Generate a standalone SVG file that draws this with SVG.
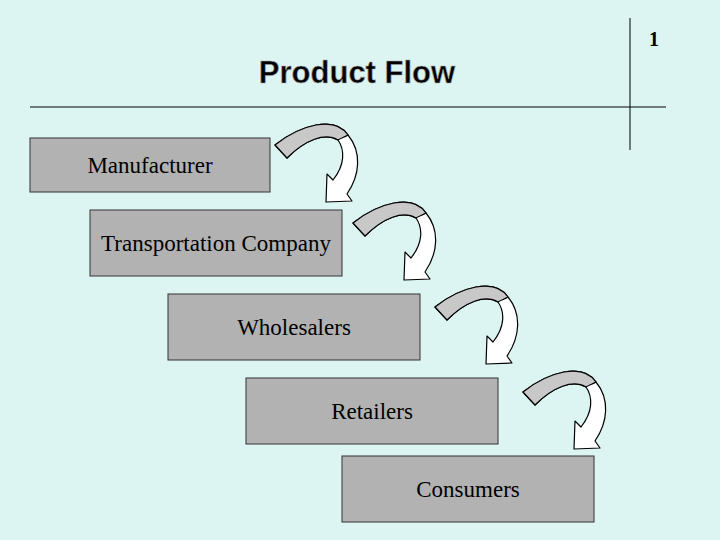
<svg xmlns="http://www.w3.org/2000/svg" xmlns:xlink="http://www.w3.org/1999/xlink" width="720" height="540" viewBox="0 0 720 540">
<style>
.box{fill:#b2b2b2;stroke:#333;stroke-width:1}
.t{font-family:"Liberation Serif",serif;font-size:23px;fill:#000;text-anchor:middle}
.ln{stroke:#000;stroke-width:1}
</style>
<defs>
<g id="arr" stroke="#000" stroke-width="1.2" stroke-linejoin="round">
<path fill="#fff" d="M275,145 C300,125 335,115 348,135 C362,152 360,175 347,194 L352,201 L326,202 L327,174 L333,180 C345,165 345,150 338,140 C325,132 305,140 287,158 Z"/>
<path fill="#c8c8c8" d="M275,145 C300,125 335,115 348,135 C345,137 341,138 338,140 C325,132 305,140 287,158 Z"/>
</g>
</defs>
<rect width="720" height="540" fill="#ddf5f2"/>
<line class="ln" x1="30" y1="107" x2="666" y2="107"/>
<line class="ln" x1="630" y1="18" x2="630" y2="150"/>
<text x="654" y="46" font-family="Liberation Serif,serif" font-size="20" font-weight="bold" text-anchor="middle">1</text>
<text x="357" y="83" font-family="Liberation Sans,sans-serif" font-size="31" font-weight="bold" text-anchor="middle" stroke="#aaa" stroke-width="0.6">Product Flow</text>
<g id="n1"><rect class="box" x="30" y="138" width="240" height="54"/><text class="t" x="150" y="173">Manufacturer</text></g>
<g id="n2"><rect class="box" x="90" y="210" width="252" height="66"/><text class="t" x="216" y="251">Transportation Company</text></g>
<g id="n3"><rect class="box" x="168" y="294" width="252" height="66"/><text class="t" x="294" y="335">Wholesalers</text></g>
<g id="n4"><rect class="box" x="246" y="378" width="252" height="66"/><text class="t" x="372" y="419">Retailers</text></g>
<g id="n5"><rect class="box" x="342" y="456" width="252" height="66"/><text class="t" x="468" y="497">Consumers</text></g>
<g id="connectors">
<use xlink:href="#arr"/>
<use xlink:href="#arr" transform="translate(78,78)"/>
<use xlink:href="#arr" transform="translate(160,162)"/>
<use xlink:href="#arr" transform="translate(248,247)"/>
</g>
</svg>
